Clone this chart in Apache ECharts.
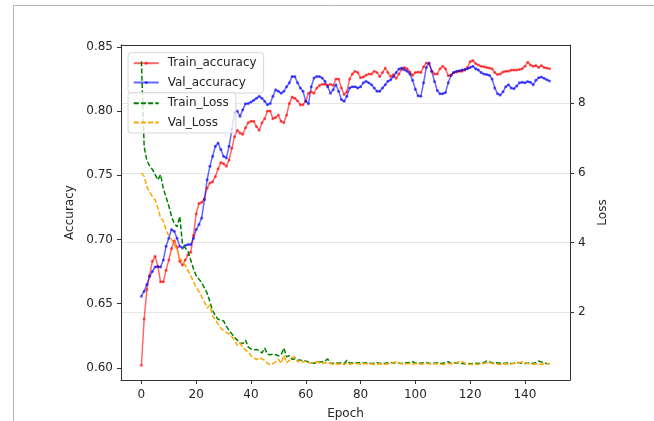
<!DOCTYPE html>
<html>
<head>
<meta charset="utf-8">
<script src="https://cdn.jsdelivr.net/npm/echarts@6/dist/echarts.min.js"></script>
<style>
html,body{margin:0;padding:0;background:#fff;}
#chart{width:654px;height:421px;}
</style>
</head>
<body>
<div id="chart"></div>
<script>
const epochs = Array.from({length: 150}, (_, i) => i);

const trainAccuracy = [
0.602,0.638,0.661,0.672,0.683,0.687,0.679,0.667,0.667,0.676,
0.684,0.693,0.699,0.694,0.683,0.680,0.684,0.688,0.690,0.703,
0.720,0.728,0.729,0.732,0.740,0.744,0.745,0.749,0.755,0.760,
0.759,0.757,0.762,0.771,0.780,0.785,0.783,0.782,0.787,0.791,
0.792,0.792,0.788,0.785,0.791,0.794,0.800,0.800,0.794,0.795,
0.797,0.792,0.791,0.797,0.806,0.811,0.810,0.808,0.805,0.805,
0.808,0.814,0.815,0.814,0.818,0.820,0.821,0.821,0.820,0.821,
0.820,0.825,0.825,0.818,0.813,0.815,0.825,0.829,0.831,0.830,
0.826,0.8265,0.828,0.829,0.829,0.831,0.830,0.827,0.830,0.8335,
0.830,0.827,0.8285,0.8255,0.829,0.8325,0.834,0.833,0.8305,0.828,
0.830,0.8305,0.830,0.8345,0.8375,0.837,0.831,0.829,0.829,0.833,
0.835,0.833,0.8275,0.828,0.830,0.8305,0.831,0.831,0.832,0.834,
0.8385,0.8395,0.837,0.836,0.835,0.8345,0.834,0.8335,0.833,0.830,
0.8285,0.829,0.8305,0.831,0.831,0.832,0.832,0.832,0.8325,0.833,
0.835,0.838,0.836,0.835,0.8355,0.834,0.8355,0.834,0.8335,0.833
];

const valAccuracy = [
0.6558,0.6597,0.665,0.6714,0.675,0.6786,0.679,0.6786,0.684,0.6947,
0.701,0.7077,0.7064,0.701,0.6947,0.6934,0.6953,0.696,0.696,0.701,
0.7077,0.7116,0.7168,0.731,0.7466,0.757,0.7648,0.7726,0.7752,0.770,
0.7648,0.7635,0.7726,0.7856,0.799,0.800,0.796,0.801,0.8058,0.806,
0.807,0.8085,0.810,0.8115,0.810,0.8076,0.805,0.806,0.8115,0.8167,
0.8154,0.814,0.8154,0.819,0.822,0.827,0.827,0.822,0.818,0.8154,
0.8076,0.8058,0.819,0.8258,0.827,0.827,0.8258,0.8232,0.819,0.814,
0.8167,0.8206,0.8154,0.809,0.8076,0.8115,0.818,0.819,0.819,0.818,
0.819,0.822,0.8232,0.822,0.8206,0.818,0.8154,0.8154,0.818,0.8206,
0.8232,0.8245,0.827,0.830,0.8328,0.8336,0.8323,0.831,0.829,0.824,
0.817,0.812,0.8115,0.822,0.834,0.8375,0.831,0.823,0.816,0.8135,
0.8135,0.8145,0.822,0.828,0.830,0.831,0.8315,0.832,0.8325,0.833,
0.834,0.835,0.833,0.832,0.830,0.829,0.8285,0.828,0.825,0.818,
0.8135,0.8125,0.815,0.819,0.8205,0.818,0.8175,0.8195,0.822,0.8225,
0.822,0.823,0.8225,0.8205,0.824,0.826,0.8265,0.8255,0.8245,0.8235
];

const trainLoss = [
9.2,6.75,6.35,6.2,6.1,5.95,5.8,5.95,5.55,5.3,
5.05,4.75,4.55,4.45,4.75,3.95,3.85,3.75,3.5,3.25,
3.05,2.95,2.85,2.7,2.55,2.3,2.05,1.9,1.8,1.78,
1.75,1.6,1.48,1.38,1.28,1.2,1.12,1.1,1.2,1.0,
0.95,0.92,0.93,0.9,0.83,0.97,0.8,0.78,0.8,0.78,
0.75,0.78,0.97,0.72,0.75,0.65,0.66,0.62,0.63,0.6,
0.6,0.57,0.55,0.54,0.55,0.57,0.58,0.6,0.66,0.53,
0.54,0.55,0.54,0.55,0.53,0.62,0.54,0.55,0.54,0.55,
0.56,0.54,0.55,0.54,0.53,0.54,0.55,0.53,0.54,0.53,
0.55,0.56,0.54,0.55,0.54,0.53,0.54,0.55,0.56,0.58,
0.54,0.55,0.54,0.55,0.56,0.54,0.53,0.54,0.55,0.53,
0.54,0.55,0.58,0.53,0.54,0.55,0.54,0.53,0.52,0.53,
0.52,0.53,0.54,0.53,0.54,0.55,0.6,0.57,0.55,0.54,
0.55,0.54,0.53,0.54,0.55,0.53,0.54,0.56,0.55,0.54,
0.53,0.54,0.55,0.53,0.55,0.6,0.57,0.55,0.53,0.52
];

const valLoss = [
6.0,5.9,5.6,5.45,5.32,5.22,5.0,4.7,4.62,4.35,
4.2,4.08,3.95,3.8,3.55,3.45,3.35,3.2,3.05,2.88,
2.72,2.6,2.45,2.3,2.12,2.2,1.9,1.78,1.66,1.55,
1.47,1.42,1.38,1.3,1.2,1.05,1.12,0.98,0.92,0.85,
0.75,0.7,0.64,0.7,0.66,0.62,0.53,0.5,0.52,0.58,
0.65,0.53,0.76,0.55,0.62,0.7,0.72,0.58,0.62,0.56,
0.6,0.55,0.54,0.56,0.58,0.55,0.53,0.56,0.52,0.54,
0.5,0.52,0.51,0.52,0.5,0.55,0.51,0.52,0.53,0.52,
0.51,0.52,0.53,0.51,0.52,0.5,0.51,0.52,0.5,0.51,
0.52,0.53,0.55,0.58,0.54,0.52,0.51,0.52,0.53,0.51,
0.52,0.53,0.51,0.52,0.54,0.52,0.51,0.52,0.53,0.51,
0.5,0.51,0.53,0.52,0.54,0.55,0.57,0.59,0.54,0.52,
0.5,0.51,0.5,0.51,0.52,0.53,0.55,0.56,0.53,0.52,
0.51,0.5,0.51,0.52,0.51,0.52,0.53,0.54,0.56,0.57,
0.55,0.53,0.52,0.51,0.52,0.51,0.5,0.52,0.53,0.52
];

const xTicks = [0, 20, 40, 60, 80, 100, 120, 140];
const accTicks = [0.60, 0.65, 0.70, 0.75, 0.80, 0.85];
const lossTicks = [2, 4, 6, 8];

const pair = arr => epochs.map((e, i) => [e, arr[i]]);

const FONT = 'DejaVu Sans';
const TXT = '#262626';
const AX = '#333333';

const chart = echarts.init(document.getElementById('chart'), null, {renderer: 'canvas'});

const legendBase = {
  orient: 'vertical',
  itemWidth: 25,
  itemHeight: 4,
  itemGap: 5.3,
  backgroundColor: 'rgba(255,255,255,0.8)',
  borderColor: '#d6d6d6',
  borderWidth: 1,
  borderRadius: 3,
  textStyle: {fontFamily: FONT, fontSize: 12, color: TXT, lineHeight: 14, padding: [0, 0, 0, 4]}
};

chart.setOption({
  animation: false,
  backgroundColor: '#ffffff',
  graphic: [{
    type: 'rect',
    shape: {x: 13.5, y: 5.5, width: 700, height: 500},
    style: {fill: 'none', stroke: '#b4b4b4', lineWidth: 1},
    silent: true,
    z: 0
  }],
  grid: {left: 121, top: 45, right: 84, bottom: 41, containLabel: false, outerBoundsMode: 'none'},
  legend: [
    Object.assign({}, legendBase, {
      left: 128, top: 52.7, padding: [3.5, 7, 3.5, 4.7],
      data: ['Train_accuracy', 'Val_accuracy'], z: 3
    }),
    Object.assign({}, legendBase, {
      left: 128, top: 92.7, padding: [3.5, 7, 3.5, 4.7],
      itemStyle: {opacity: 0},
      data: ['Train_Loss', 'Val_Loss'], z: 6
    })
  ],
  xAxis: [{
    type: 'value', min: -7.45, max: 156.45, position: 'bottom',
    name: 'Epoch', nameLocation: 'middle', nameGap: 27.5,
    nameTextStyle: {fontFamily: FONT, fontSize: 12, color: TXT},
    axisLine: {show: true, onZero: false, lineStyle: {color: AX, width: 1}},
    axisTick: {show: true, length: 4, customValues: xTicks, lineStyle: {color: AX}},
    axisLabel: {customValues: xTicks, margin: 8.5, fontFamily: FONT, fontSize: 12, color: TXT},
    splitLine: {show: false}
  }, {
    type: 'value', min: -7.45, max: 156.45, position: 'top',
    axisLine: {show: true, onZero: false, lineStyle: {color: AX, width: 1}},
    axisTick: {show: false}, axisLabel: {show: false}, splitLine: {show: false}
  }],
  yAxis: [{
    type: 'value', min: 0.5905, max: 0.8515, position: 'left',
    name: 'Accuracy', nameLocation: 'middle', nameGap: 41,
    nameTextStyle: {fontFamily: FONT, fontSize: 12, color: TXT},
    axisLine: {show: true, onZero: false, lineStyle: {color: AX, width: 1}},
    axisTick: {show: true, length: 4, customValues: accTicks, lineStyle: {color: AX}},
    axisLabel: {customValues: accTicks, margin: 8, fontFamily: FONT, fontSize: 12, color: TXT,
      formatter: v => v.toFixed(2)},
    splitLine: {show: false}
  }, {
    type: 'value', min: 0.056, max: 9.67, position: 'right',
    name: 'Loss', nameLocation: 'middle', nameGap: 19,
    nameTextStyle: {fontFamily: FONT, fontSize: 12, color: TXT},
    axisLine: {show: true, onZero: false, lineStyle: {color: AX, width: 1}},
    axisTick: {show: true, length: 4, customValues: lossTicks, lineStyle: {color: AX}},
    axisLabel: {customValues: lossTicks, margin: 8, fontFamily: FONT, fontSize: 12, color: TXT},
    splitLine: {show: true, lineStyle: {color: '#e6e6e6', width: 1}}
  }],
  series: [{
    name: 'Train_accuracy', type: 'line', xAxisIndex: 0, yAxisIndex: 0,
    data: pair(trainAccuracy), z: 2,
    symbol: 'circle', symbolSize: 3, showAllSymbol: true,
    lineStyle: {color: '#ff0000', width: 1.5, opacity: 0.6},
    itemStyle: {color: '#ff0000', opacity: 0.6, borderWidth: 0}
  }, {
    name: 'Val_accuracy', type: 'line', xAxisIndex: 0, yAxisIndex: 0,
    data: pair(valAccuracy), z: 2,
    symbol: 'circle', symbolSize: 3, showAllSymbol: true,
    lineStyle: {color: '#0000ff', width: 1.5, opacity: 0.6},
    itemStyle: {color: '#0000ff', opacity: 0.6, borderWidth: 0}
  }, {
    name: 'Train_Loss', type: 'line', xAxisIndex: 0, yAxisIndex: 1,
    data: pair(trainLoss), z: 4, symbol: 'none',
    lineStyle: {color: '#008000', width: 1.5, type: [5, 2.2]},
    itemStyle: {color: '#008000'}
  }, {
    name: 'Val_Loss', type: 'line', xAxisIndex: 0, yAxisIndex: 1,
    data: pair(valLoss), z: 4, symbol: 'none',
    lineStyle: {color: '#ffa500', width: 1.5, type: [5, 2.2]},
    itemStyle: {color: '#ffa500'}
  }]
});
</script>
</body>
</html>
